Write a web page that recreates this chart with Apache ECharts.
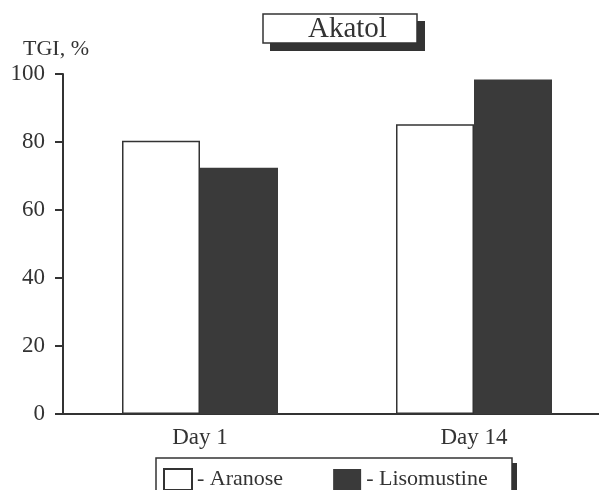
<!DOCTYPE html>
<html>
<head>
<meta charset="utf-8">
<script src="https://cdn.jsdelivr.net/npm/echarts@6/dist/echarts.min.js"></script>
<style>
  html, body { margin: 0; padding: 0; background: #fff; }
  #chart { width: 599px; height: 490px; }
</style>
</head>
<body>
<div id="chart"></div>
<script>
var days = ['Day 1', 'Day 14'];
var aranose = [80.4, 85.2];
var lisomustine = [72.4, 98.4];
var yTicks = [0, 20, 40, 60, 80, 100];

var serif = "'Liberation Serif', 'Times New Roman', serif";
var ink = '#333';

var myChart = echarts.init(document.getElementById('chart'));
var option = {
  animation: false,
  title: {
    text: 'Akatol',
    left: 263,
    top: 14,
    padding: [1, 30, 0, 45],
    backgroundColor: '#fff',
    borderColor: ink,
    borderWidth: 1.5,
    textStyle: { fontFamily: serif, fontSize: 29, fontWeight: 'normal', color: ink, lineHeight: 28 }
  },
  graphic: [
    // shadow behind title box
    { type: 'rect', z: 0, shape: { x: 270, y: 21, width: 155, height: 30 }, style: { fill: ink } },
    // legend box + shadow
    { type: 'rect', z: 0, shape: { x: 161, y: 463, width: 356, height: 40 }, style: { fill: ink } },
    { type: 'rect', z: 1, shape: { x: 156, y: 458, width: 356, height: 40 }, style: { fill: '#fff', stroke: ink, lineWidth: 1.5 } }
  ],
  legend: {
    left: 158,
    top: 463,
    icon: 'rect',
    itemWidth: 28,
    itemHeight: 21,
    itemGap: 50,
    z: 5,
    data: ['Aranose', 'Lisomustine'],
    formatter: function (name) { return '- ' + name; },
    textStyle: { fontFamily: serif, fontSize: 22, color: ink }
  },
  grid: { left: 63, top: 74, bottom: 76, width: 548, containLabel: false, outerBoundsMode: 'none' },
  xAxis: {
    type: 'category',
    data: days,
    axisLine: { lineStyle: { color: ink, width: 2 } },
    axisTick: { show: false },
    axisLabel: { fontFamily: serif, fontSize: 23, color: ink, margin: 12 }
  },
  yAxis: {
    type: 'value',
    min: 0,
    max: 100,
    interval: 20,
    name: 'TGI, %',
    nameLocation: 'end',
    nameGap: 14,
    nameTextStyle: { fontFamily: serif, fontSize: 22, color: ink, align: 'center', padding: [0, 14, 0, 0] },
    splitLine: { show: false },
    axisLine: { show: true, lineStyle: { color: ink, width: 2 } },
    axisTick: { show: true, length: 8, lineStyle: { color: ink, width: 2 } },
    axisLabel: {
      fontFamily: serif, fontSize: 23, color: ink, margin: 18,
      formatter: function (v) { return yTicks.indexOf(v) >= 0 ? String(v) : ''; }
    }
  },
  series: [
    {
      name: 'Aranose',
      type: 'bar',
      data: aranose,
      barWidth: 78,
      barGap: '0%',
      itemStyle: { color: '#fff', borderColor: ink, borderWidth: 1.5 }
    },
    {
      name: 'Lisomustine',
      type: 'bar',
      data: lisomustine,
      barWidth: 78,
      barGap: '0%',
      itemStyle: { color: '#3a3a3a', borderColor: '#3a3a3a', borderWidth: 0 }
    }
  ]
};
myChart.setOption(option);
</script>
</body>
</html>
